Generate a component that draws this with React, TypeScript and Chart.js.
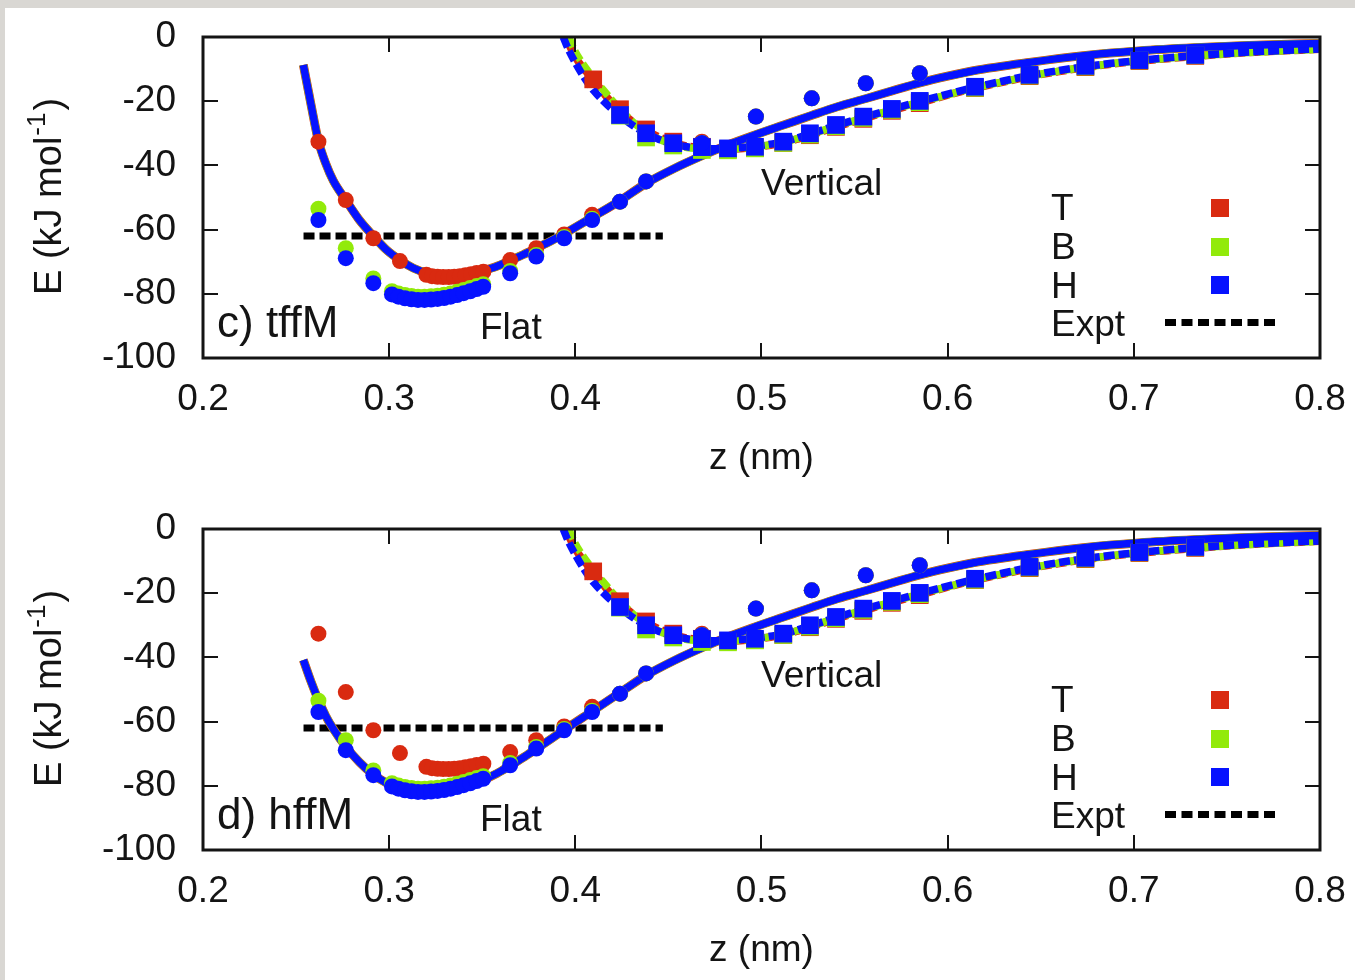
import React, { useEffect, useRef } from 'react';
import { Chart, registerables } from 'chart.js';

Chart.register(...registerables);

// ---------------- axis ticks ----------------
const X_TICKS = [0.2, 0.3, 0.4, 0.5, 0.6, 0.7, 0.8];
const Y_TICKS = [0, -20, -40, -60, -80, -100];

// ---------------- "Flat" geometry: data points (circles) ----------------
const FLAT_T_X = [0.262, 0.2767, 0.2915, 0.3058, 0.320, 0.323, 0.326, 0.329, 0.332, 0.335, 0.338, 0.341, 0.344, 0.347, 0.3506, 0.365, 0.379, 0.394, 0.409, 0.424, 0.438, 0.468, 0.497, 0.527, 0.556, 0.585];
const FLAT_T_Y = [-32.6, -50.8, -62.7, -69.8, -74.1, -74.5, -74.7, -74.8, -74.8, -74.7, -74.5, -74.2, -73.9, -73.5, -73.1, -69.5, -65.8, -61.5, -55.4, -51.3, -45.0, -32.6, -24.8, -19.1, -14.4, -11.3];

const FLAT_HB_X = [0.262, 0.2767, 0.2915, 0.3015, 0.305, 0.3085, 0.312, 0.3155, 0.319, 0.3225, 0.326, 0.3295, 0.333, 0.3365, 0.340, 0.3435, 0.347, 0.3505, 0.365, 0.379, 0.394, 0.409, 0.424, 0.438, 0.468, 0.497, 0.527, 0.556, 0.585];
const FLAT_H_Y = [-57.0, -68.9, -76.7, -80.2, -80.9, -81.4, -81.7, -81.9, -81.9, -81.8, -81.6, -81.3, -80.9, -80.4, -79.8, -79.2, -78.5, -77.8, -73.6, -68.4, -62.7, -57.0, -51.3, -45.0, -33.0, -24.8, -19.1, -14.4, -11.3];
const FLAT_B_Y = [-53.5, -65.8, -75.2, -79.2, -79.9, -80.4, -80.7, -80.9, -80.9, -80.8, -80.6, -80.3, -79.9, -79.4, -78.8, -78.2, -77.6, -77.0, -72.9, -67.9, -62.3, -56.6, -51.3, -45.0, -33.0, -24.8, -19.1, -14.4, -11.3];

// ---------------- "Vertical" geometry: data points (squares) ----------------
const VERT_T_X = [0.4096, 0.424, 0.438, 0.4526, 0.468, 0.482, 0.4965, 0.5117, 0.526, 0.540, 0.5547, 0.570, 0.585, 0.6147, 0.644, 0.674, 0.703, 0.733];
const VERT_T_Y = [-13.2, -22.5, -28.8, -32.6, -34.2, -35.0, -34.6, -33.0, -30.6, -28.0, -25.5, -23.0, -20.6, -15.9, -12.2, -9.4, -7.5, -5.9];
const VERT_BH_X = [0.424, 0.438, 0.4526, 0.468, 0.482, 0.4965, 0.5117, 0.526, 0.540, 0.5547, 0.570, 0.585, 0.6147, 0.644, 0.674, 0.703, 0.733];
const VERT_B_Y = [-24.5, -31.3, -33.8, -35.2, -35.3, -34.7, -33.0, -30.4, -27.8, -25.2, -22.7, -20.3, -15.8, -12.0, -9.2, -7.3, -5.7];
const VERT_H_Y = [-24.3, -30.0, -33.1, -34.3, -34.7, -34.2, -32.6, -30.0, -27.4, -24.8, -22.4, -19.9, -15.5, -11.8, -9.0, -7.2, -5.6];

// ---------------- fitted curves ----------------
const FLAT_LINE_X = [0.2539, 0.258, 0.262, 0.266, 0.270, 0.2767, 0.284, 0.2915, 0.2985, 0.306, 0.313, 0.320, 0.327, 0.334, 0.341, 0.350, 0.358, 0.365, 0.372, 0.379, 0.387, 0.394, 0.409, 0.424, 0.438, 0.453, 0.468, 0.482, 0.497, 0.512, 0.527, 0.541, 0.556, 0.570, 0.585, 0.600, 0.614, 0.644, 0.673, 0.703, 0.733, 0.762, 0.800];
const TOP_FLAT_LINE_Y = [-8.7, -21, -32.4, -39.5, -44.8, -50.8, -57, -62, -66.3, -69.6, -72, -73.5, -74.4, -74.7, -74.3, -72.9, -71.4, -69.6, -67.8, -65.8, -63.5, -61.3, -56.2, -51, -45.6, -41, -37, -33.6, -30.4, -27.4, -24.4, -21.7, -19.2, -16.8, -14.3, -12.2, -10.5, -7.9, -5.8, -4.3, -3.3, -2.6, -2.0];
const BOTTOM_FLAT_LINE_Y = [-40.8, -47.5, -53.3, -58.3, -62.3, -67.8, -72.6, -76.5, -79.1, -80.7, -81.5, -81.8, -81.7, -81.2, -80.3, -78.3, -76.1, -73.7, -71.2, -68.5, -65.4, -62.6, -56.8, -51, -45.6, -41, -37, -33.6, -30.4, -27.4, -24.4, -21.7, -19.2, -16.8, -14.3, -12.2, -10.5, -7.9, -5.8, -4.3, -3.3, -2.6, -2.0];

const VERT_LINE_H_X = [0.3935, 0.396, 0.400, 0.405, 0.410, 0.417, 0.424, 0.431, 0.438, 0.445, 0.4526, 0.460, 0.468, 0.475, 0.482, 0.4965, 0.512, 0.526, 0.540, 0.555, 0.570, 0.585, 0.600, 0.615, 0.630, 0.644, 0.659, 0.674, 0.688, 0.703, 0.718, 0.733, 0.762, 0.800];
const VERT_LINE_H_Y = [0, -3.5, -8, -12.8, -16.8, -21, -24.5, -27.6, -30, -31.9, -33.3, -34.2, -34.6, -34.8, -34.7, -34.0, -32.6, -30.2, -27.6, -25.0, -22.5, -20.1, -17.8, -15.6, -13.7, -12.0, -10.5, -9.2, -8.2, -7.3, -6.5, -5.8, -4.7, -3.7];
const VERT_LINE_T_X = [0.395, 0.398, 0.402, 0.4096, 0.417, 0.424, 0.431, 0.438, 0.445, 0.4526, 0.460, 0.468, 0.475, 0.482, 0.4965, 0.512, 0.526, 0.540, 0.555, 0.570, 0.585, 0.600, 0.615, 0.630, 0.644, 0.659, 0.674, 0.688, 0.703, 0.718, 0.733, 0.762, 0.800];
const VERT_LINE_T_Y = [0, -4, -8, -13.2, -18.8, -23, -26.5, -29, -31.2, -32.9, -34.0, -34.6, -34.9, -34.9, -34.3, -32.9, -30.6, -28.0, -25.4, -22.9, -20.5, -18.1, -15.9, -14.0, -12.3, -10.8, -9.5, -8.4, -7.5, -6.7, -6.0, -4.8, -3.8];
const VERT_LINE_B_X = [0.3965, 0.399, 0.403, 0.408, 0.415, 0.424, 0.431, 0.438, 0.445, 0.4526, 0.460, 0.468, 0.475, 0.482, 0.4965, 0.512, 0.526, 0.540, 0.555, 0.570, 0.585, 0.600, 0.615, 0.630, 0.644, 0.659, 0.674, 0.688, 0.703, 0.718, 0.733, 0.762, 0.800];
const VERT_LINE_B_Y = [0, -3.5, -7.5, -11.5, -16.5, -22.5, -26.5, -29.5, -31.8, -33.5, -34.4, -34.8, -35.0, -34.9, -34.2, -32.8, -30.4, -27.8, -25.2, -22.7, -20.3, -18.0, -15.8, -13.9, -12.2, -10.7, -9.4, -8.3, -7.4, -6.6, -5.9, -4.8, -3.8];

// ---------------- experiment ----------------
const EXPT_X = [0.254, 0.447];
const EXPT_Y = [-62, -62];

// ---------------- labels ----------------
const SERIES_NAMES = ['T', 'B', 'H'];
const EXPT_NAME = 'Expt';
const X_TITLE = 'z (nm)';
const Y_TITLE_MAIN = 'E (kJ mol';
const Y_TITLE_SUP = '-1';
const Y_TITLE_END = ')';
const PANEL_LABELS = ['c) tffM', 'd) hffM'];
const FLAT_TEXT = 'Flat';
const VERT_TEXT = 'Vertical';

// ---------------- styles ----------------
const COLORS = { T: '#d92a10', B: '#92ea0a', H: '#0612ff' };
const INK = '#141414';
const FAMILY = '"Liberation Sans", Arial, Helvetica, sans-serif';
const CANVAS_W = 1355;
const CANVAS_H = 490;

const toPts = (xs: number[], ys: number[]) => xs.map((x, i) => ({ x, y: ys[i] }));

function pointsDs(xs: number[], ys: number[], color: string, style: string, r: number, order: number) {
  return {
    data: toPts(xs, ys),
    showLine: false,
    pointStyle: style,
    pointRadius: r,
    pointHoverRadius: r,
    pointBackgroundColor: color,
    pointBorderColor: color,
    pointBorderWidth: 0,
    backgroundColor: color,
    borderColor: color,
    order,
  };
}

function lineDs(xs: number[], ys: number[], color: string, width: number, dash: number[], dashOffset: number, order: number) {
  return {
    data: toPts(xs, ys),
    showLine: true,
    pointRadius: 0,
    pointHoverRadius: 0,
    borderColor: color,
    backgroundColor: color,
    borderWidth: width,
    borderDash: dash,
    borderDashOffset: dashOffset,
    borderCapStyle: 'butt',
    borderJoinStyle: 'round',
    cubicInterpolationMode: 'monotone',
    fill: false,
    order,
  };
}

function buildDatasets(flatLineY: number[]) {
  const DASH = [11, 4];
  return [
    // points (on top): H, B, T
    pointsDs(FLAT_HB_X, FLAT_H_Y, COLORS.H, 'circle', 8, 1),
    pointsDs(VERT_BH_X, VERT_H_Y, COLORS.H, 'rect', 12.5, 1),
    pointsDs(FLAT_HB_X, FLAT_B_Y, COLORS.B, 'circle', 8, 2),
    pointsDs(VERT_BH_X, VERT_B_Y, COLORS.B, 'rect', 12.5, 2),
    pointsDs(FLAT_T_X, FLAT_T_Y, COLORS.T, 'circle', 8, 3),
    pointsDs(VERT_T_X, VERT_T_Y, COLORS.T, 'rect', 12.5, 3),
    // fitted curves
    lineDs(FLAT_LINE_X, flatLineY, COLORS.H, 7.5, [], 0, 4),
    lineDs(VERT_LINE_H_X, VERT_LINE_H_Y, COLORS.H, 7.5, DASH, 0, 4),
    lineDs(FLAT_LINE_X, flatLineY, COLORS.B, 8, [], 0, 5),
    lineDs(VERT_LINE_B_X, VERT_LINE_B_Y, COLORS.B, 7.5, DASH, 0, 5),
    lineDs(FLAT_LINE_X, flatLineY, COLORS.T, 8.8, [], 0, 6),
    lineDs(VERT_LINE_T_X, VERT_LINE_T_Y, COLORS.T, 7.8, DASH, 8, 6),
    // experiment
    lineDs(EXPT_X, EXPT_Y, '#000000', 7, [11, 5], 0, 7),
  ];
}

const framePlugin = {
  id: 'gnuFrame',
  afterDatasetsDraw(chart: any) {
    const { ctx, chartArea, scales } = chart;
    const { left, right, top, bottom } = chartArea;
    const x = scales.x;
    const y = scales.y;
    const TL = 15;
    ctx.save();
    ctx.strokeStyle = INK;
    ctx.lineWidth = 2;
    ctx.beginPath();
    X_TICKS.forEach((v) => {
      const px = Math.round(x.getPixelForValue(v));
      ctx.moveTo(px, bottom);
      ctx.lineTo(px, bottom - TL);
      ctx.moveTo(px, top);
      ctx.lineTo(px, top + TL);
    });
    Y_TICKS.forEach((v) => {
      const py = Math.round(y.getPixelForValue(v));
      ctx.moveTo(left, py);
      ctx.lineTo(left + TL, py);
      ctx.moveTo(right, py);
      ctx.lineTo(right - TL, py);
    });
    ctx.stroke();
    ctx.lineWidth = 3;
    ctx.strokeRect(left, top, right - left, bottom - top);
    ctx.restore();
  },
};

function overlayPlugin(panelLabel: string) {
  return {
    id: 'gnuOverlay',
    afterDraw(chart: any) {
      const { ctx } = chart;
      ctx.save();
      ctx.fillStyle = INK;
      ctx.textAlign = 'left';
      ctx.textBaseline = 'alphabetic';

      // panel label
      ctx.font = `44px ${FAMILY}`;
      ctx.fillText(panelLabel, 217, 337);
      // annotations
      ctx.font = `37px ${FAMILY}`;
      ctx.fillText(FLAT_TEXT, 480, 339);
      ctx.fillText(VERT_TEXT, 761, 195);

      // legend
      const rows = [220, 259, 298];
      const sqY = [208, 247, 285];
      const cols = [COLORS.T, COLORS.B, COLORS.H];
      SERIES_NAMES.forEach((name, i) => {
        ctx.fillStyle = INK;
        ctx.fillText(name, 1051, rows[i]);
        ctx.fillStyle = cols[i];
        ctx.fillRect(1211, sqY[i] - 9, 18, 18);
      });
      ctx.fillStyle = INK;
      ctx.fillText(EXPT_NAME, 1051, 336);
      ctx.strokeStyle = '#000';
      ctx.lineWidth = 7;
      ctx.setLineDash([11, 5.5]);
      ctx.beginPath();
      ctx.moveTo(1165, 322.5);
      ctx.lineTo(1276, 322.5);
      ctx.stroke();
      ctx.setLineDash([]);

      // y-axis title with superscript
      ctx.translate(61, 295);
      ctx.rotate(-Math.PI / 2);
      ctx.fillStyle = INK;
      ctx.font = `38px ${FAMILY}`;
      const w1 = ctx.measureText(Y_TITLE_MAIN).width;
      ctx.fillText(Y_TITLE_MAIN, 0, 0);
      ctx.font = `26px ${FAMILY}`;
      const w2 = ctx.measureText(Y_TITLE_SUP).width;
      ctx.fillText(Y_TITLE_SUP, w1 + 1, -16);
      ctx.font = `38px ${FAMILY}`;
      ctx.fillText(Y_TITLE_END, w1 + w2 + 3, 0);
      ctx.restore();
    },
  };
}

function makeConfig(flatLineY: number[], panelLabel: string): any {
  const tickFont = { family: FAMILY, size: 37 };
  return {
    type: 'line',
    data: { datasets: buildDatasets(flatLineY) },
    options: {
      animation: false,
      responsive: false,
      events: [],
      layout: { padding: { top: 37, right: 35, left: 0, bottom: 0 } },
      plugins: { legend: { display: false }, tooltip: { enabled: false } },
      scales: {
        x: {
          type: 'linear',
          min: 0.2,
          max: 0.8,
          afterBuildTicks: (s: any) => {
            s.ticks = X_TICKS.map((v) => ({ value: v }));
          },
          ticks: {
            callback: (v: any) => Number(v).toFixed(1),
            font: tickFont,
            color: INK,
            padding: 20,
            maxRotation: 0,
            autoSkip: false,
          },
          grid: { display: false, drawTicks: false },
          border: { display: false },
          title: { display: true, text: X_TITLE, font: tickFont, color: INK, padding: { top: 0, bottom: 9 } },
          afterFit: (s: any) => {
            s.height = 132;
            s.paddingLeft = 0;
            s.paddingRight = 0;
          },
        },
        y: {
          type: 'linear',
          min: -100,
          max: 0,
          afterBuildTicks: (s: any) => {
            s.ticks = Y_TICKS.map((v) => ({ value: v }));
          },
          ticks: {
            callback: (v: any) => String(v),
            font: tickFont,
            color: INK,
            padding: 27,
            autoSkip: false,
          },
          grid: { display: false, drawTicks: false },
          border: { display: false },
          afterFit: (s: any) => {
            s.width = 203;
            s.paddingTop = 0;
            s.paddingBottom = 0;
          },
        },
      },
    },
    plugins: [framePlugin, overlayPlugin(panelLabel)],
  };
}

function Panel({ flatLineY, label, top }: { flatLineY: number[]; label: string; top: number }) {
  const ref = useRef<HTMLCanvasElement | null>(null);
  useEffect(() => {
    if (!ref.current) return;
    const chart = new Chart(ref.current, makeConfig(flatLineY, label));
    return () => chart.destroy();
  }, [flatLineY, label]);
  return (
    <canvas
      ref={ref}
      width={CANVAS_W}
      height={CANVAS_H}
      style={{ position: 'absolute', left: 0, top, width: CANVAS_W, height: CANVAS_H }}
    />
  );
}

export default function App() {
  return (
    <div
      style={{
        position: 'fixed',
        left: 0,
        top: 0,
        width: 1355,
        height: 980,
        overflow: 'hidden',
        background: '#d9d7d3',
      }}
    >
      <div style={{ position: 'absolute', left: 5, top: 8, right: 0, bottom: 0, background: '#ffffff' }} />
      <Panel flatLineY={TOP_FLAT_LINE_Y} label={PANEL_LABELS[0]} top={0} />
      <Panel flatLineY={BOTTOM_FLAT_LINE_Y} label={PANEL_LABELS[1]} top={492} />
    </div>
  );
}
